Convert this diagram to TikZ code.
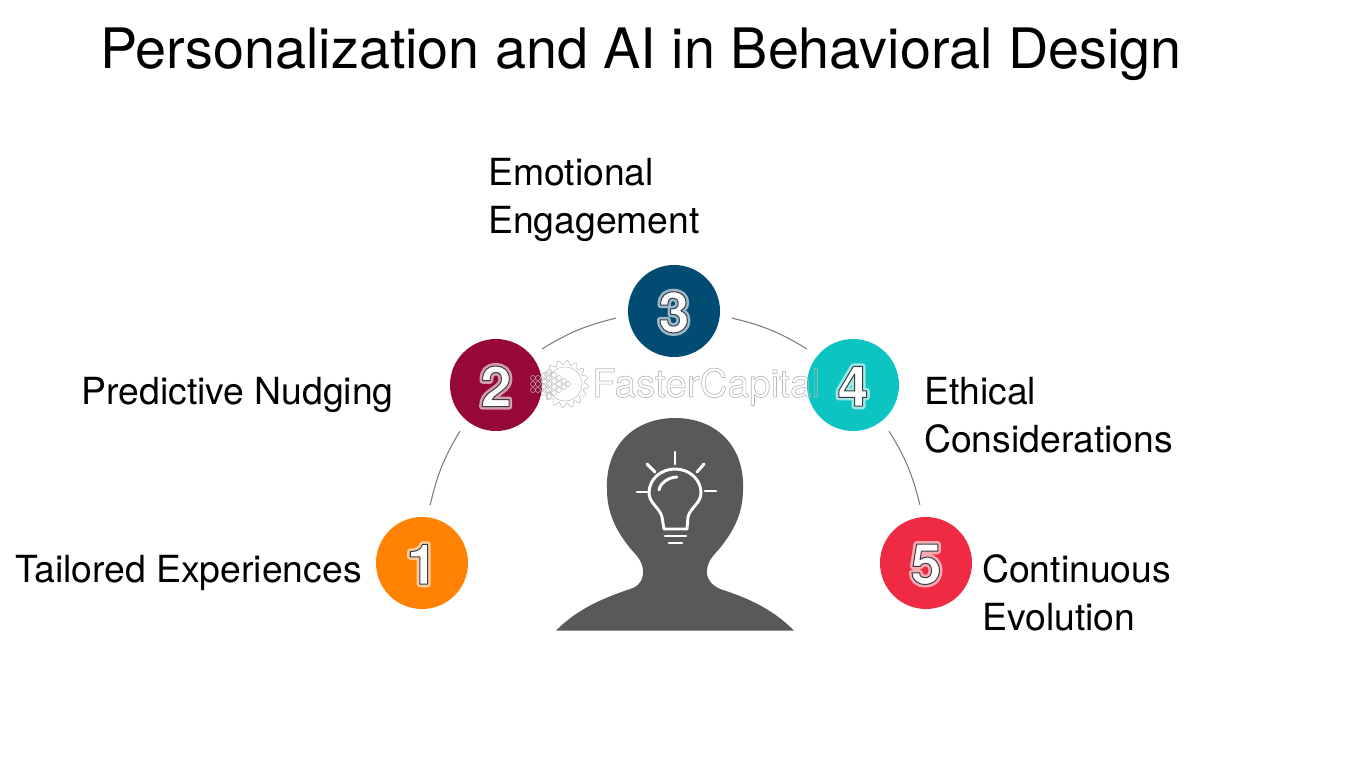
\documentclass[tikz,border=0pt]{standalone}
\usepackage{fontspec}
\setmainfont{TeX Gyre Heros}
\usepackage{tikz}
\usetikzlibrary{positioning, calc}
\definecolor{cir1}{RGB}{255, 130, 5}
\definecolor{cir2}{RGB}{150, 8, 54}
\definecolor{cir3}{RGB}{2, 75, 114}
\definecolor{cir4}{RGB}{12, 197, 195}
\definecolor{cir5}{RGB}{238, 43, 66}
\definecolor{headcol}{RGB}{89, 89, 89}
\definecolor{conn}{RGB}{125, 125, 125}
\definecolor{wmark}{RGB}{185, 185, 185}
\definecolor{numline}{RGB}{60, 60, 70}

% stroked text: colour, width, text
\newcommand{\strokeonly}[3]{{\color{#1}\special{pdf:code 1 j #2 w 1 Tr}#3\special{pdf:code 0 Tr}}}
\newcommand{\strokefill}[3]{{\color{#1}\special{pdf:code 1 j #2 w 2 Tr 1 1 1 rg}#3\special{pdf:code 0 Tr}}}
\newcommand{\numface}[2]{%
  \makebox[0pt]{\strokeonly{#2}{4.6}{#1}}%
  \makebox[0pt]{\strokefill{numline}{0.75}{#1}}%
}

\begin{document}
\begin{tikzpicture}[
  x=0.75pt, y=-0.75pt,
  circ/.style={
    circle, fill=#1, minimum size=69pt, inner sep=0pt, outer sep=9.4pt,
  },
  cnum/.style={font=\fontsize{42}{42}\selectfont\bfseries, inner sep=0pt, yshift=-1pt},
  clabel/.style={font=\fontsize{28}{36}\selectfont, align=left, inner sep=0pt},
  arr/.style={conn, line width=0.8pt},
  bulb/.style={white, line width=2.2pt, line cap=round, line join=round},
  wm/.style={wmark, line width=0.4pt},
]
\useasboundingbox (0,0) rectangle (1350,759);

% Title
\node[font=\fontsize{41.8}{44}\selectfont, anchor=base west, inner sep=0pt] (title)
  at (100,69) {Personalization and AI in Behavioral Design};

% Circles
\foreach \i/\col/\px/\py in {
  1/cir1/422/563,
  2/cir2/496/385,
  3/cir3/674/311,
  4/cir4/853/385,
  5/cir5/926/563%
}{
  \node[circ=\col] (c\i) at (\px,\py) {};
  \node[cnum] (n\i) at (c\i) {\numface{\i}{\col!40!white}};
}

% Watermark
\node[font=\fontsize{29}{29}\selectfont, anchor=base west, inner sep=0pt] (wmtext)
  at (592,397) {\strokeonly{wmark}{0.5}{FasterCapital}};
\draw[wm] plot[domain=0:360, samples=129]
  ({565+(21.5+2.5*sin(16*\x))*cos(\x)}, {384+(21.5+2.5*sin(16*\x))*sin(\x)});
\draw[wm] (565,384) circle (17);
\foreach \cx/\cy in {
  533/378, 533/384, 533/390, 538/378, 538/384, 538/390,
  544/375, 544/381, 544/387, 544/393, 549/372, 549/378, 549/384, 549/390, 549/396,
  554/375, 554/381, 554/387, 554/393, 559/378, 559/384, 559/390, 564/381, 564/387, 568/384%
}{
  \draw[wm] (\cx,\cy) circle (2.5);
}

% Arrows
\draw[arr] (c1.82) to[bend left=9] (c2.232);
\draw[arr] (c2.38) to[bend left=9] (c3.187);
\draw[arr] (c3.353) to[bend left=9] (c4.142);
\draw[arr] (c4.308) to[bend left=9] (c5.96);

% Labels
\node[clabel, anchor=base east] (l1) at (362,582) {Tailored Experiences};
\node[clabel, anchor=base east] (l2) at (394,404) {Predictive Nudging};
\node[clabel, anchor=west] (l3) at (488,200) {Emotional\\Engagement};
\node[clabel, anchor=west] (l4) at (924,415) {Ethical\\Considerations};
\node[clabel, anchor=west] (l5) at (982,593) {Continuous\\Evolution};

% Head
\fill[headcol] (556,630.7) .. controls (578,608) and (606,597) .. (633,588)
  .. controls (640,585) and (644,578) .. (643,570)
  .. controls (642,560) and (636,555) .. (630,548)
  .. controls (618,533) and (607,515) .. (607,490)
  .. controls (605,445) and (635,418) .. (675,418)
  .. controls (715,418) and (745,445) .. (743,490)
  .. controls (743,515) and (732,533) .. (720,548)
  .. controls (714,555) and (708,560) .. (707,570)
  .. controls (706,578) and (711,585) .. (720,589)
  .. controls (745,597) and (772,608) .. (794,630.7) -- cycle;

% Bulb
\draw[bulb] (664,529) -- (662,517)
  .. controls (660,508) and (649,503) .. (649,493)
  .. controls (649,479) and (661,469) .. (675,469)
  .. controls (689,469) and (701,479) .. (701,493)
  .. controls (701,503) and (690,508) .. (688,517)
  -- (687,529) -- cycle;
\draw[bulb] (659,490) .. controls (660,483) and (669,477) .. (677,477);
\foreach \xa/\ya/\xb/\yb in {
  665/536/686/536, 669/543/682/543,
  675/452/675/464, 647/464/655/472, 704/464/697/472,
  637/492/647/492, 705/491/716/491%
}{
  \draw[bulb] (\xa,\ya) -- (\xb,\yb);
}

\end{tikzpicture}
\end{document}
